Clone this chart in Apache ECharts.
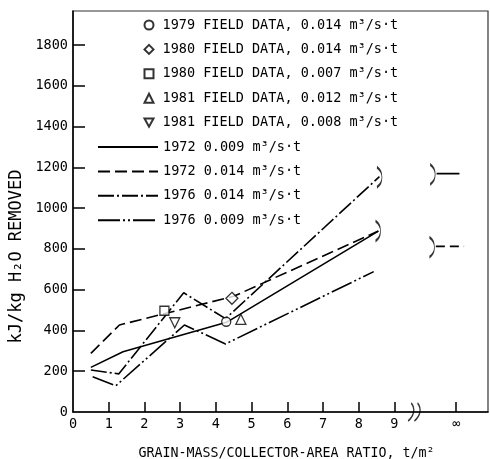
<!DOCTYPE html>
<html>
<head>
<meta charset="utf-8">
<script src="https://cdn.jsdelivr.net/npm/echarts@6/dist/echarts.min.js"></script>
<style>
html,body{margin:0;padding:0;background:#fff;}
#chart{width:490px;height:459px;}
</style>
</head>
<body>
<div id="chart"></div>
<script>
// field data, [ratio t/m2, kJ/kg]
let field1979 = [[4.29, 443]];
let field1980a = [[4.45, 558]];
let field1980b = [[2.56, 497]];
let field1981a = [[4.70, 455]];
let field1981b = [[2.85, 438]];
// curves
let curve1972a = [[0.5, 219], [1.4, 296], [4.3, 440], [8.55, 888]];
let curve1972b = [[0.5, 288], [1.3, 427], [4.5, 568], [8.55, 888]];
let curve1976a = [[0.5, 206], [1.28, 187], [3.1, 585], [4.27, 458], [8.58, 1155]];
let curve1976b = [[0.55, 173], [1.2, 129], [3.12, 427], [4.27, 334], [8.42, 689]];
// values at infinity
let inf1972a = [[10.18, 1170], [10.82, 1170]];
let inf1972b = [[10.16, 813], [10.95, 813]];
let endArcs = [[8.58, 1152], [8.54, 888]];
let infArcs = [[10.07, 1166], [10.05, 809]];
let axisBreak = [[9.55, 0]];
// axis ticks
let xTicks = [0, 1, 2, 3, 4, 5, 6, 7, 8, 9];
let infinityAt = 10.73;
let yTicks = [0, 200, 400, 600, 800, 1000, 1200, 1400, 1600, 1800];

let legendNames1 = [
    '1979 FIELD DATA, 0.014 m³/s·t',
    '1980 FIELD DATA, 0.014 m³/s·t',
    '1980 FIELD DATA, 0.007 m³/s·t',
    '1981 FIELD DATA, 0.012 m³/s·t',
    '1981 FIELD DATA, 0.008 m³/s·t'
];
let legendNames2 = [
    '1972 0.009 m³/s·t',
    '1972 0.014 m³/s·t',
    '1976 0.014 m³/s·t',
    '1976 0.009 m³/s·t'
];

const MONO = "'DejaVu Sans Mono', 'Liberation Mono', monospace";
const hollow = {color: '#fff', borderColor: '#000', borderWidth: 1.3};
const arcPath = 'path://M0,0 C4,3 5,6 5,10 C5,14 4,17 0,20';

function fieldSeries(name, data, symbol, size) {
    return {name: name, type: 'scatter', data: data, symbol: symbol, symbolSize: size,
        itemStyle: hollow, z: 5, clip: false};
}
function curveSeries(name, data, dash) {
    return {name: name, type: 'line', data: data, symbol: 'none', showSymbol: false,
        lineStyle: {color: '#000', width: 1.6, type: dash}, itemStyle: {color: '#000'}};
}
function decoSeries(name, data, symbol, size) {
    return {name: name, type: 'scatter', data: data, symbol: symbol, symbolSize: size, clip: false,
        itemStyle: {color: 'none', borderColor: '#000', borderWidth: 1.5}, z: 4};
}

let chart = echarts.init(document.getElementById('chart'));
let option = {
    animation: false,
    textStyle: {fontFamily: MONO, color: '#000'},
    grid: {left: 73, right: 2, top: 11, bottom: 47, show: true, borderColor: '#333', borderWidth: 1.2,
        containLabel: false, outerBoundsMode: 'none'},
    legend: [
        {
            data: legendNames1, orient: 'vertical', left: 143.5, top: 17, padding: 0,
            itemWidth: 9, itemHeight: 9, itemGap: 8.4, selectedMode: false,
            textStyle: {fontFamily: MONO, fontSize: 13.5, color: '#000', lineHeight: 16, padding: [0, 0, 0, 4]}
        },
        {
            data: legendNames2, orient: 'vertical', left: 97, top: 139, padding: 0,
            itemWidth: 60, itemHeight: 9, itemGap: 8.4, selectedMode: false,
            itemStyle: {color: 'transparent', borderWidth: 0},
            textStyle: {fontFamily: MONO, fontSize: 13.5, color: '#000', lineHeight: 16}
        }
    ],
    xAxis: {
        type: 'value', min: 0, max: 11.62,
        name: 'GRAIN-MASS/COLLECTOR-AREA RATIO, t/m²',
        nameLocation: 'middle', nameGap: 35,
        nameTextStyle: {fontFamily: MONO, fontSize: 13.3, color: '#000', padding: [0, 0, 0, 12]},
        axisLine: {lineStyle: {color: '#000', width: 1.5}},
        axisTick: {inside: true, length: 10, customValues: xTicks.slice(1).concat([infinityAt]),
            lineStyle: {color: '#000', width: 1.5}},
        axisLabel: {customValues: xTicks.concat([infinityAt]), margin: 5,
            fontFamily: MONO, fontSize: 13.5, color: '#000',
            formatter: function(v) { return v > 9.5 ? '∞' : String(v); }},
        splitLine: {show: false}
    },
    yAxis: {
        type: 'value', min: 0, max: 1968,
        name: 'kJ/kg H₂O REMOVED',
        nameLocation: 'middle', nameGap: 37,
        nameTextStyle: {fontFamily: MONO, fontSize: 17, color: '#000', padding: [0, 90, 0, 0]},
        axisLine: {show: true, lineStyle: {color: '#000', width: 1.5}},
        axisTick: {show: true, inside: true, length: 12, customValues: yTicks.slice(1),
            lineStyle: {color: '#000', width: 1.5}},
        axisLabel: {customValues: yTicks, margin: 5,
            fontFamily: MONO, fontSize: 13.5, color: '#000',
            formatter: function(v) { return String(v); }},
        splitLine: {show: false}
    },
    series: [
        fieldSeries(legendNames1[0], field1979, 'circle', 9),
        fieldSeries(legendNames1[1], field1980a, 'diamond', 12),
        fieldSeries(legendNames1[2], field1980b, 'rect', 9),
        fieldSeries(legendNames1[3], field1981a, 'triangle', 10),
        fieldSeries(legendNames1[4], field1981b, 'path://M0,0 L10,0 L5,9 Z', 10),
        curveSeries(legendNames2[0], curve1972a, 'solid'),
        curveSeries(legendNames2[1], curve1972b, [12, 5]),
        curveSeries(legendNames2[2], curve1976a, [16, 3, 2, 3]),
        curveSeries(legendNames2[3], curve1976b, [22, 3, 2, 3, 2, 3]),
        curveSeries('inf 1972 0.009', inf1972a, 'solid'),
        curveSeries('inf 1972 0.014', inf1972b, [9, 5]),
        decoSeries('end arcs', endArcs, arcPath, [5, 20]),
        decoSeries('inf arcs', infArcs, arcPath, [5, 20]),
        decoSeries('break', axisBreak, 'path://M3,0 C7,6 6,14 0,20 M9,0 C13,6 12,14 6,20', [12, 18])
    ]
};
chart.setOption(option);
</script>
</body>
</html>
